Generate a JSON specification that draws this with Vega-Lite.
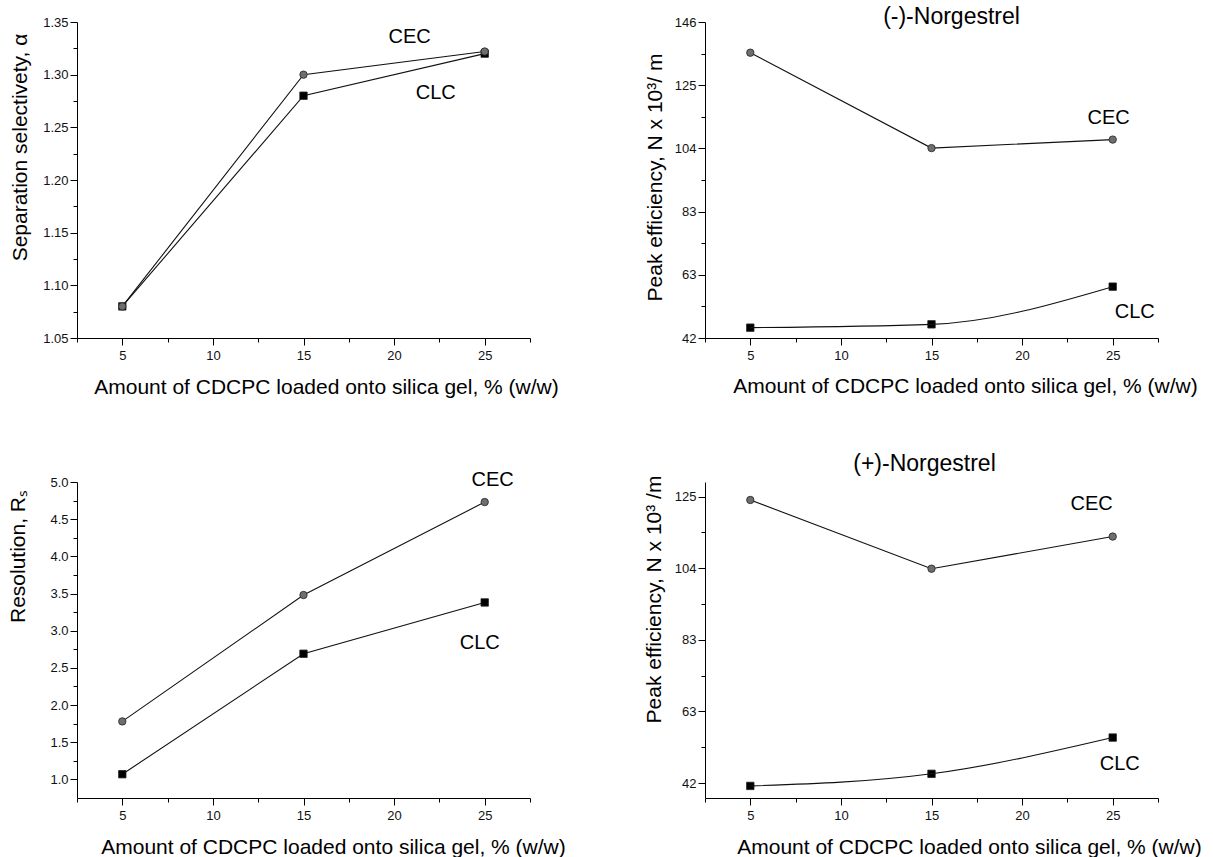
{
  "$schema": "https://vega.github.io/schema/vega-lite/v6.json",
  "padding": {"left": 7, "top": 6, "right": 0, "bottom": 0},
  "background": "white",
  "datasets": {
    "sel": [
      {"series": "CLC", "x": 5, "y": 1.08},
      {"series": "CLC", "x": 15, "y": 1.28},
      {"series": "CLC", "x": 25, "y": 1.32},
      {"series": "CEC", "x": 5, "y": 1.08},
      {"series": "CEC", "x": 15, "y": 1.30},
      {"series": "CEC", "x": 25, "y": 1.322}
    ],
    "effMinus": [
      {"series": "CEC", "x": 5, "y": 135.9},
      {"series": "CEC", "x": 15, "y": 104.5},
      {"series": "CEC", "x": 25, "y": 107.3},
      {"series": "CLC", "x": 5, "y": 45.4},
      {"series": "CLC", "x": 15, "y": 46.5},
      {"series": "CLC", "x": 25, "y": 58.9}
    ],
    "res": [
      {"series": "CEC", "x": 5, "y": 1.78},
      {"series": "CEC", "x": 15, "y": 3.48},
      {"series": "CEC", "x": 25, "y": 4.73},
      {"series": "CLC", "x": 5, "y": 1.07},
      {"series": "CLC", "x": 15, "y": 2.69},
      {"series": "CLC", "x": 25, "y": 3.38}
    ],
    "effPlus": [
      {"series": "CEC", "x": 5, "y": 124.0},
      {"series": "CEC", "x": 15, "y": 104.1},
      {"series": "CEC", "x": 25, "y": 113.4},
      {"series": "CLC", "x": 5, "y": 41.2},
      {"series": "CLC", "x": 15, "y": 44.7},
      {"series": "CLC", "x": 25, "y": 55.2}
    ]
  },
  "columns": 2,
  "spacing": {"row": 144, "column": 175},
  "bounds": "flush",
  "concat": [
    {
      "width": 453, "height": 316,
      "data": {"name": "sel"},
      "resolve": {"axis": {"x": "independent", "y": "independent"}},
      "layer": [
        {
          "mark": {"type": "line", "color": "#111", "strokeWidth": 1.1, "interpolate": "linear"},
          "encoding": {
            "x": {"field": "x", "type": "quantitative", "scale": {"domain": [2.5, 27.5], "nice": false, "zero": false},
              "axis": {"orient": "bottom", "values": [5, 10, 15, 20, 25], "format": "d", "tickSize": 7, "labelPadding": 4, "labelFlush": false, "labelOverlap": false,
                "title": "Amount of CDCPC loaded onto silica gel, % (w/w)", "titleX": 249, "titleY": 55, "titleAlign": "center", "titleBaseline": "alphabetic"}},
            "y": {"field": "y", "type": "quantitative", "scale": {"domain": [1.05, 1.35], "nice": false, "zero": false},
              "axis": {"orient": "left", "values": [1.05, 1.10, 1.15, 1.20, 1.25, 1.30, 1.35], "format": ".2f", "tickSize": 7, "labelPadding": 2, "labelFlush": false, "labelOverlap": false,
                "title": "Separation selectivety, α", "titleX": -51, "titleY": 125, "titleAngle": -90, "titleAlign": "center", "titleBaseline": "alphabetic"}},
            "detail": {"field": "series"}
          }
        },
        {
          "mark": {"type": "point", "filled": true, "size": 55, "stroke": "#222", "strokeWidth": 0.8, "opacity": 1},
          "encoding": {
            "x": {"field": "x", "type": "quantitative", "scale": {"domain": [2.5, 27.5], "nice": false, "zero": false},
              "axis": {"orient": "bottom", "values": [2.5, 7.5, 12.5, 17.5, 22.5, 27.5], "labels": false, "domain": false, "tickSize": 4, "title": null}},
            "y": {"field": "y", "type": "quantitative", "scale": {"domain": [1.05, 1.35], "nice": false, "zero": false},
              "axis": {"orient": "left", "values": [1.075, 1.125, 1.175, 1.225, 1.275, 1.325], "labels": false, "domain": false, "tickSize": 4, "title": null}},
            "shape": {"field": "series", "type": "nominal", "scale": {"domain": ["CEC", "CLC"], "range": ["circle", "square"]}, "legend": null},
            "color": {"field": "series", "type": "nominal", "scale": {"domain": ["CEC", "CLC"], "range": ["#6e6e6e", "#000000"]}, "legend": null}
          }
        },
        {
          "transform": [{"filter": "datum.x == 25 && datum.series == 'CEC'"}],
          "mark": {"type": "text", "fontSize": 20, "dx": -75, "dy": -14, "align": "center", "baseline": "middle", "color": "#000"},
          "encoding": {
            "x": {"field": "x", "type": "quantitative", "axis": null},
            "y": {"field": "y", "type": "quantitative", "axis": null},
            "text": {"field": "series"}
          }
        },
        {
          "transform": [{"filter": "datum.x == 25 && datum.series == 'CLC'"}],
          "mark": {"type": "text", "fontSize": 20, "dx": -49, "dy": 39, "align": "center", "baseline": "middle", "color": "#000"},
          "encoding": {
            "x": {"field": "x", "type": "quantitative", "axis": null},
            "y": {"field": "y", "type": "quantitative", "axis": null},
            "text": {"field": "series"}
          }
        }
      ]
    },
    {
      "width": 453, "height": 316,
      "data": {"name": "effMinus"},
      "title": {"text": "(-)-Norgestrel", "fontSize": 23, "fontWeight": "normal", "font": "Liberation Sans", "frame": "group", "anchor": "middle", "dx": 20, "offset": -31, "baseline": "alphabetic", "color": "#000"},
      "resolve": {"axis": {"x": "independent", "y": "independent"}},
      "layer": [
        {
          "transform": [{"filter": "datum.series == 'CEC'"}],
          "mark": {"type": "line", "color": "#111", "strokeWidth": 1.1, "interpolate": "linear"},
          "encoding": {
            "x": {"field": "x", "type": "quantitative", "scale": {"domain": [2.5, 27.5], "nice": false, "zero": false},
              "axis": {"orient": "bottom", "values": [5, 10, 15, 20, 25], "format": "d", "tickSize": 7, "labelPadding": 4, "labelFlush": false, "labelOverlap": false,
                "title": "Amount of CDCPC loaded onto silica gel, % (w/w)", "titleX": 260, "titleY": 54, "titleAlign": "center", "titleBaseline": "alphabetic"}},
            "y": {"field": "y", "type": "quantitative", "scale": {"domain": [42, 146], "nice": false, "zero": false},
              "axis": {"orient": "left", "values": [42, 62.8, 83.6, 104.4, 125.2, 146], "labelExpr": "abs(datum.value - 83.6) < 0.01 ? '83' : format(datum.value, '.0f')", "tickSize": 7, "labelPadding": 2, "labelFlush": false, "labelOverlap": false,
                "title": "Peak efficiency, N x 10³/ m", "titleX": -44, "titleY": 155, "titleAngle": -90, "titleAlign": "center", "titleBaseline": "alphabetic"}}
          }
        },
        {
          "mark": {"type": "point", "filled": true, "size": 55, "stroke": "#222", "strokeWidth": 0.8, "opacity": 1},
          "encoding": {
            "x": {"field": "x", "type": "quantitative", "scale": {"domain": [2.5, 27.5], "nice": false, "zero": false},
              "axis": {"orient": "bottom", "values": [2.5, 7.5, 12.5, 17.5, 22.5, 27.5], "labels": false, "domain": false, "tickSize": 4, "title": null}},
            "y": {"field": "y", "type": "quantitative", "scale": {"domain": [42, 146], "nice": false, "zero": false},
              "axis": {"orient": "left", "values": [52.4, 73.2, 94, 114.8, 135.6], "labels": false, "domain": false, "tickSize": 4, "title": null}},
            "shape": {"field": "series", "type": "nominal", "scale": {"domain": ["CEC", "CLC"], "range": ["circle", "square"]}, "legend": null},
            "color": {"field": "series", "type": "nominal", "scale": {"domain": ["CEC", "CLC"], "range": ["#6e6e6e", "#000000"]}, "legend": null}
          }
        },
        {
          "transform": [{"filter": "datum.series == 'CLC'"}],
          "mark": {"type": "line", "color": "#111", "strokeWidth": 1.1, "interpolate": "monotone"},
          "encoding": {
            "x": {"field": "x", "type": "quantitative", "axis": null},
            "y": {"field": "y", "type": "quantitative", "axis": null}
          }
        },
        {
          "transform": [{"filter": "datum.x == 25 && datum.series == 'CEC'"}],
          "mark": {"type": "text", "fontSize": 20, "dx": -4, "dy": -22, "align": "center", "baseline": "middle", "color": "#000"},
          "encoding": {
            "x": {"field": "x", "type": "quantitative", "axis": null},
            "y": {"field": "y", "type": "quantitative", "axis": null},
            "text": {"field": "series"}
          }
        },
        {
          "transform": [{"filter": "datum.x == 25 && datum.series == 'CLC'"}],
          "mark": {"type": "text", "fontSize": 20, "dx": 22, "dy": 25, "align": "center", "baseline": "middle", "color": "#000"},
          "encoding": {
            "x": {"field": "x", "type": "quantitative", "axis": null},
            "y": {"field": "y", "type": "quantitative", "axis": null},
            "text": {"field": "series"}
          }
        }
      ]
    },
    {
      "width": 453, "height": 316,
      "data": {"name": "res"},
      "resolve": {"axis": {"x": "independent", "y": "independent"}},
      "layer": [
        {
          "mark": {"type": "line", "color": "#111", "strokeWidth": 1.1, "interpolate": "linear"},
          "encoding": {
            "x": {"field": "x", "type": "quantitative", "scale": {"domain": [2.5, 27.5], "nice": false, "zero": false},
              "axis": {"orient": "bottom", "values": [5, 10, 15, 20, 25], "format": "d", "tickSize": 7, "labelPadding": 4, "labelFlush": false, "labelOverlap": false,
                "title": "Amount of CDCPC loaded onto silica gel, % (w/w)", "titleX": 256, "titleY": 55, "titleAlign": "center", "titleBaseline": "alphabetic"}},
            "y": {"field": "y", "type": "quantitative", "scale": {"domain": [0.75, 5.0], "nice": false, "zero": false},
              "axis": {"orient": "left", "values": [1.0, 1.5, 2.0, 2.5, 3.0, 3.5, 4.0, 4.5, 5.0], "format": ".1f", "tickSize": 7, "labelPadding": 2, "labelFlush": false, "labelOverlap": false,
                "title": "Resolution, Rₛ", "titleX": -53, "titleY": 74, "titleAngle": -90, "titleAlign": "center", "titleBaseline": "alphabetic"}},
            "detail": {"field": "series"}
          }
        },
        {
          "mark": {"type": "point", "filled": true, "size": 55, "stroke": "#222", "strokeWidth": 0.8, "opacity": 1},
          "encoding": {
            "x": {"field": "x", "type": "quantitative", "scale": {"domain": [2.5, 27.5], "nice": false, "zero": false},
              "axis": {"orient": "bottom", "values": [2.5, 7.5, 12.5, 17.5, 22.5, 27.5], "labels": false, "domain": false, "tickSize": 4, "title": null}},
            "y": {"field": "y", "type": "quantitative", "scale": {"domain": [0.75, 5.0], "nice": false, "zero": false},
              "axis": {"orient": "left", "values": [1.25, 1.75, 2.25, 2.75, 3.25, 3.75, 4.25, 4.75], "labels": false, "domain": false, "tickSize": 4, "title": null}},
            "shape": {"field": "series", "type": "nominal", "scale": {"domain": ["CEC", "CLC"], "range": ["circle", "square"]}, "legend": null},
            "color": {"field": "series", "type": "nominal", "scale": {"domain": ["CEC", "CLC"], "range": ["#6e6e6e", "#000000"]}, "legend": null}
          }
        },
        {
          "transform": [{"filter": "datum.x == 25 && datum.series == 'CEC'"}],
          "mark": {"type": "text", "fontSize": 20, "dx": 8, "dy": -22, "align": "center", "baseline": "middle", "color": "#000"},
          "encoding": {
            "x": {"field": "x", "type": "quantitative", "axis": null},
            "y": {"field": "y", "type": "quantitative", "axis": null},
            "text": {"field": "series"}
          }
        },
        {
          "transform": [{"filter": "datum.x == 25 && datum.series == 'CLC'"}],
          "mark": {"type": "text", "fontSize": 20, "dx": -5, "dy": 41, "align": "center", "baseline": "middle", "color": "#000"},
          "encoding": {
            "x": {"field": "x", "type": "quantitative", "axis": null},
            "y": {"field": "y", "type": "quantitative", "axis": null},
            "text": {"field": "series"}
          }
        }
      ]
    },
    {
      "width": 453, "height": 316,
      "data": {"name": "effPlus"},
      "title": {"text": "(+)-Norgestrel", "fontSize": 23, "fontWeight": "normal", "font": "Liberation Sans", "frame": "group", "anchor": "middle", "dx": -7, "offset": -19, "baseline": "alphabetic", "color": "#000"},
      "resolve": {"axis": {"x": "independent", "y": "independent"}},
      "layer": [
        {
          "transform": [{"filter": "datum.series == 'CEC'"}],
          "mark": {"type": "line", "color": "#111", "strokeWidth": 1.1, "interpolate": "linear"},
          "encoding": {
            "x": {"field": "x", "type": "quantitative", "scale": {"domain": [2.5, 27.5], "nice": false, "zero": false},
              "axis": {"orient": "bottom", "values": [5, 10, 15, 20, 25], "format": "d", "tickSize": 7, "labelPadding": 4, "labelFlush": false, "labelOverlap": false,
                "title": "Amount of CDCPC loaded onto silica gel, % (w/w)", "titleX": 264, "titleY": 55, "titleAlign": "center", "titleBaseline": "alphabetic"}},
            "y": {"field": "y", "type": "quantitative", "scale": {"domain": [37.7, 129.2], "nice": false, "zero": false},
              "axis": {"orient": "left", "values": [42, 62.75, 83.5, 104.25, 125], "labelExpr": "abs(datum.value - 83.5) < 0.01 ? '83' : format(datum.value, '.0f')", "tickSize": 7, "labelPadding": 2, "labelFlush": false, "labelOverlap": false,
                "title": "Peak efficiency, N x 10³ /m", "titleX": -45, "titleY": 117, "titleAngle": -90, "titleAlign": "center", "titleBaseline": "alphabetic"}}
          }
        },
        {
          "mark": {"type": "point", "filled": true, "size": 55, "stroke": "#222", "strokeWidth": 0.8, "opacity": 1},
          "encoding": {
            "x": {"field": "x", "type": "quantitative", "scale": {"domain": [2.5, 27.5], "nice": false, "zero": false},
              "axis": {"orient": "bottom", "values": [2.5, 7.5, 12.5, 17.5, 22.5, 27.5], "labels": false, "domain": false, "tickSize": 4, "title": null}},
            "y": {"field": "y", "type": "quantitative", "scale": {"domain": [37.7, 129.2], "nice": false, "zero": false},
              "axis": {"orient": "left", "values": [52.375, 73.125, 93.875, 114.625], "labels": false, "domain": false, "tickSize": 4, "title": null}},
            "shape": {"field": "series", "type": "nominal", "scale": {"domain": ["CEC", "CLC"], "range": ["circle", "square"]}, "legend": null},
            "color": {"field": "series", "type": "nominal", "scale": {"domain": ["CEC", "CLC"], "range": ["#6e6e6e", "#000000"]}, "legend": null}
          }
        },
        {
          "transform": [{"filter": "datum.series == 'CLC'"}],
          "mark": {"type": "line", "color": "#111", "strokeWidth": 1.1, "interpolate": "monotone"},
          "encoding": {
            "x": {"field": "x", "type": "quantitative", "axis": null},
            "y": {"field": "y", "type": "quantitative", "axis": null}
          }
        },
        {
          "transform": [{"filter": "datum.x == 25 && datum.series == 'CEC'"}],
          "mark": {"type": "text", "fontSize": 20, "dx": -21, "dy": -33, "align": "center", "baseline": "middle", "color": "#000"},
          "encoding": {
            "x": {"field": "x", "type": "quantitative", "axis": null},
            "y": {"field": "y", "type": "quantitative", "axis": null},
            "text": {"field": "series"}
          }
        },
        {
          "transform": [{"filter": "datum.x == 25 && datum.series == 'CLC'"}],
          "mark": {"type": "text", "fontSize": 20, "dx": 7, "dy": 26, "align": "center", "baseline": "middle", "color": "#000"},
          "encoding": {
            "x": {"field": "x", "type": "quantitative", "axis": null},
            "y": {"field": "y", "type": "quantitative", "axis": null},
            "text": {"field": "series"}
          }
        }
      ]
    }
  ],
  "config": {
    "font": "Liberation Sans",
    "view": {"stroke": null},
    "axis": {
      "labelFont": "Liberation Sans", "labelFontSize": 13, "labelColor": "#111",
      "titleFont": "Liberation Sans", "titleFontSize": 21, "titleFontWeight": "normal", "titleColor": "#000",
      "domainColor": "#000", "tickColor": "#000", "domainWidth": 1, "tickWidth": 1, "grid": false
    },
    "text": {"font": "Liberation Sans"}
  }
}
